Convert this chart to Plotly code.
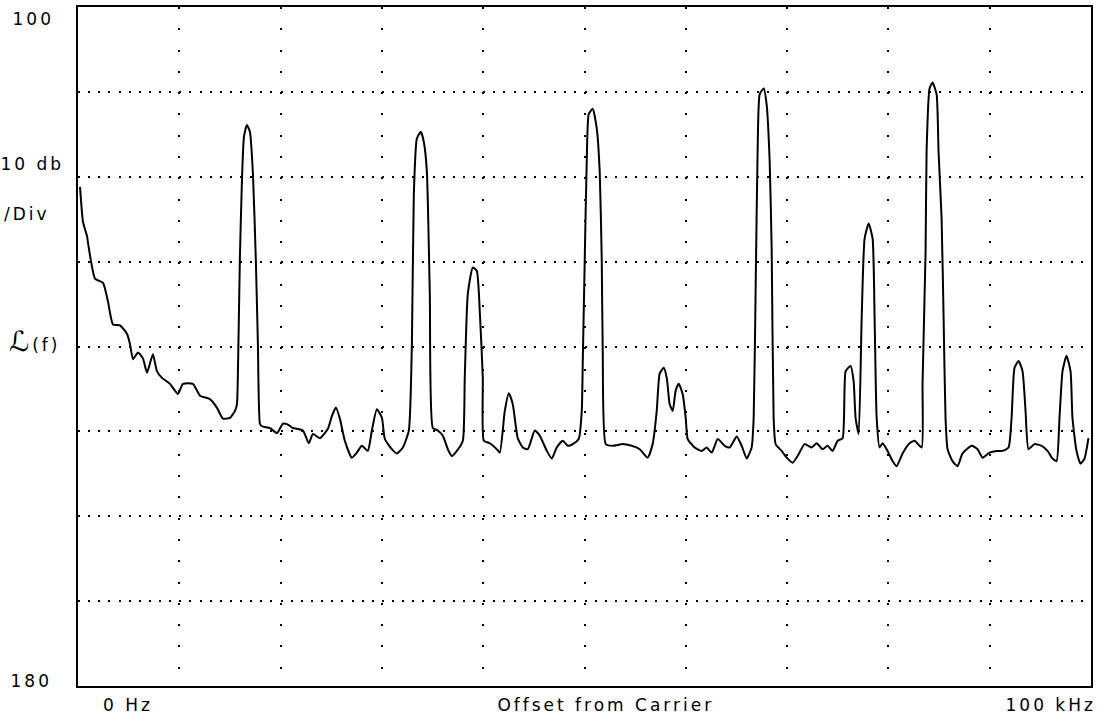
import plotly.graph_objects as go

# Single-sideband phase noise sweep, 0 Hz .. 100 kHz offset, 10 dB/div
offset_khz = [
    0.20, 0.49, 0.89, 0.99, 1.68, 2.47, 2.96, 3.45, 4.14, 4.83,
    5.13, 5.43, 5.92, 6.41, 6.81, 7.10, 7.40, 7.79, 8.29, 9.08,
    9.87, 10.36, 11.35, 12.04, 13.02, 13.71, 14.31, 15.00, 15.49, 15.69,
    15.79, 15.98, 16.18, 16.38, 16.67, 16.97, 17.27, 17.56, 17.76, 17.96,
    18.15, 18.94, 19.64, 20.23, 20.72, 21.21, 22.20, 22.79, 23.19, 23.88,
    24.67, 25.06, 25.46, 25.85, 26.34, 27.03, 27.53, 28.02, 28.61, 29.01,
    29.50, 30.00, 30.29, 30.98, 31.48, 32.07, 32.66, 32.96, 33.15, 33.45,
    33.84, 34.14, 34.44, 34.73, 35.03, 35.52, 36.01, 36.51, 36.90, 37.40,
    37.99, 38.18, 38.48, 38.97, 39.37, 39.66, 39.96, 40.06, 40.65, 41.34,
    41.64, 42.13, 42.53, 42.92, 43.41, 43.91, 44.40, 45.09, 45.58, 46.28,
    46.77, 47.26, 47.85, 48.35, 48.84, 49.43, 49.73, 49.83, 50.02, 50.22,
    50.42, 50.81, 51.21, 51.50, 51.70, 51.80, 52.10, 52.79, 53.77, 54.66,
    55.45, 56.24, 56.73, 57.13, 57.42, 57.82, 58.12, 58.41, 58.71, 59.00,
    59.30, 59.69, 59.99, 60.19, 60.88, 61.57, 62.06, 62.56, 63.15, 63.84,
    64.33, 65.02, 65.52, 66.01, 66.50, 66.70, 66.90, 67.09, 67.29, 67.69,
    67.98, 68.28, 68.48, 68.67, 68.87, 69.46, 69.96, 70.55, 71.04, 71.73,
    72.42, 72.92, 73.51, 74.00, 74.49, 74.99, 75.48, 75.78, 76.27, 76.57,
    76.76, 77.06, 77.36, 77.65, 78.05, 78.44, 78.64, 78.84, 79.13, 79.43,
    79.92, 80.41, 80.81, 81.40, 82.09, 82.59, 83.28, 83.37, 83.67, 83.77,
    84.06, 84.36, 84.76, 84.95, 85.25, 85.45, 85.64, 85.84, 86.33, 86.83,
    87.32, 88.21, 88.80, 89.29, 89.98, 90.68, 91.27, 91.86, 92.16, 92.45,
    92.85, 93.24, 93.54, 93.83, 94.42, 95.12, 95.71, 96.20, 96.60, 96.89,
    97.19, 97.58, 97.98, 98.17, 98.57, 98.96, 99.36, 99.75,
]

level_db = [
    121.2, 125.3, 127.0, 127.8, 132.0, 132.5, 134.7, 137.4, 137.5, 138.5,
    139.7, 141.5, 140.7, 141.4, 143.1, 142.0, 140.9, 142.9, 143.7, 144.4,
    145.6, 144.4, 144.4, 145.8, 146.2, 147.2, 148.5, 148.4, 147.6, 146.8,
    142.9, 129.6, 120.6, 115.3, 113.9, 114.7, 119.7, 130.0, 139.7, 149.1,
    149.4, 149.6, 150.2, 149.1, 149.2, 149.6, 149.9, 151.4, 150.3, 150.8,
    149.7, 148.2, 147.2, 148.5, 151.1, 153.1, 152.5, 151.7, 152.3, 149.9,
    147.4, 148.4, 150.9, 152.1, 152.6, 151.9, 149.9, 139.7, 122.1, 115.5,
    114.7, 115.9, 119.4, 133.8, 149.6, 149.9, 150.5, 152.1, 152.9, 152.3,
    151.1, 143.7, 133.8, 130.7, 131.1, 135.8, 143.7, 151.1, 151.4, 152.1,
    152.5, 147.6, 145.5, 146.8, 150.8, 151.9, 152.1, 149.9, 150.5, 152.3,
    153.2, 151.9, 151.1, 151.7, 151.5, 150.9, 147.6, 141.7, 130.0, 118.2,
    112.6, 112.0, 114.3, 119.4, 129.6, 140.5, 151.5, 151.7, 151.5, 151.7,
    152.1, 153.1, 151.5, 147.6, 143.2, 142.5, 143.7, 146.8, 147.6, 145.2,
    144.4, 145.6, 148.4, 150.9, 151.9, 152.3, 151.9, 152.5, 150.9, 151.7,
    151.9, 150.6, 151.7, 153.2, 151.9, 148.4, 132.7, 117.0, 110.3, 109.6,
    111.5, 118.2, 128.8, 148.4, 151.5, 152.3, 153.1, 153.7, 152.9, 151.5,
    151.9, 151.4, 152.1, 151.7, 152.3, 151.1, 150.8, 142.9, 142.3, 144.1,
    148.4, 150.3, 136.7, 127.3, 125.5, 127.3, 136.7, 148.4, 151.9, 151.4,
    152.3, 153.5, 154.1, 152.6, 151.4, 151.1, 151.9, 144.4, 128.8, 117.0,
    109.6, 108.9, 110.3, 117.0, 124.9, 136.7, 148.4, 152.1, 153.5, 154.1,
    152.6, 151.7, 152.1, 153.1, 152.5, 152.3, 152.3, 151.9, 148.4, 142.5,
    141.7, 142.9, 147.6, 152.1, 151.5, 151.7, 152.3, 153.2, 153.5, 148.4,
    142.9, 141.1, 142.9, 148.4, 152.3, 153.8, 153.2, 150.8,
]

x_range = [0, 100]
y_top, y_bottom = 100, 180
div_x, div_y = 10, 10

fig = go.Figure()
fig.add_trace(go.Scatter(
    x=offset_khz, y=level_db, mode="lines",
    line=dict(color="black", width=2, shape="spline", smoothing=0.5),
    hoverinfo="skip", showlegend=False,
))

W, H = 1111, 718
ml, mr, mt, mb = 78, 20, 5, 32
plot_w = W - ml - mr
plot_h = H - mt - mb

fig.update_layout(
    width=W, height=H,
    margin=dict(l=ml, r=mr, t=mt, b=mb, pad=0),
    paper_bgcolor="white", plot_bgcolor="white",
    showlegend=False,
)

fig.update_xaxes(
    range=x_range, dtick=div_x, tick0=0,
    showgrid=True, gridcolor="black", gridwidth=2,
    griddash="2px,%.2fpx" % (plot_h / 8 / 4 - 2),
    showline=True, linecolor="black", linewidth=2, mirror=True,
    zeroline=False, ticks="", showticklabels=False,
)
fig.update_yaxes(
    range=[y_bottom, y_top], dtick=div_y, tick0=y_top,
    autorange=False,
    showgrid=True, gridcolor="black", gridwidth=2,
    griddash="2px,%.2fpx" % (plot_w / 100 - 2),
    showline=True, linecolor="black", linewidth=2, mirror=True,
    zeroline=False, ticks="", showticklabels=False,
)


def px_to_paper(px, py):
    return (px - ml) / plot_w, (H - mb - py) / plot_h


label_font = dict(family="DejaVu Sans", size=17, color="black")
labels = [
    ("100", 33, 17, "center"),
    ("10 db", 6, 162, "left"),
    ("/Div", 8, 213, "left"),
    ("<span style='font-size:28px'>ℒ</span>(f)", 13, 340, "left"),
    ("180", 31, 681, "center"),
    ("0 Hz", 128, 705, "center"),
    ("Offset from Carrier", 606, 705, "center"),
    ("100 kHz", 1050, 705, "center"),
]
for text, px, py, anchor in labels:
    ax, ay = px_to_paper(px, py)
    fig.add_annotation(
        text=text, x=ax, y=ay, xref="paper", yref="paper",
        xanchor=anchor, yanchor="middle", showarrow=False,
        font=label_font,
    )

spacing_js = (
    "document.querySelectorAll('.annotation-text').forEach("
    "function(t){t.style.letterSpacing='3px';});"
)
fig.write_html("out.html", post_script=spacing_js)
